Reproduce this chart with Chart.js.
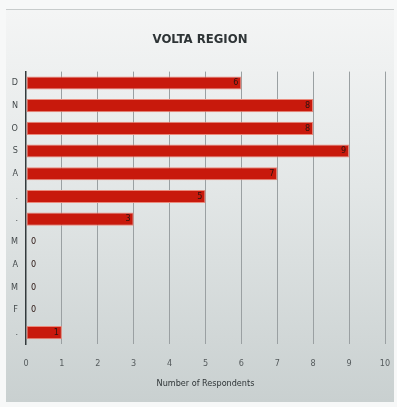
<!DOCTYPE html>
<html>
<head>
<meta charset="utf-8">
<script src="https://cdn.jsdelivr.net/npm/chart.js@4.4.1/dist/chart.umd.min.js"></script>
<style>
  html, body { margin: 0; padding: 0; background: #f7f8f8; }
  #wrap { position: relative; width: 397px; height: 407px; }
  #panel {
    position: absolute; left: 6px; top: 9px; width: 388px; height: 392px;
    background: linear-gradient(to bottom, #f4f5f5 0%, #e3e7e7 45%, #c9d0d0 100%);
    border-top: 1px solid #c8cccc;
  }
  canvas { position: absolute; left: 0; top: 0; }
</style>
</head>
<body>
<div id="wrap">
  <div id="panel"></div>
  <canvas id="chart" width="397" height="407"></canvas>
</div>
<script>
// months top to bottom, as printed on the axis
const months = ['D', 'N', 'O', 'S', 'A', '.', '.', 'M', 'A', 'M', 'F', '.']
const respondents = [6, 8, 8, 9, 7, 5, 3, 0, 0, 0, 0, 1]
const xTicks = [0, 1, 2, 3, 4, 5, 6, 7, 8, 9, 10]

const narrow = "'Liberation Sans Narrow', 'DejaVu Sans Condensed', 'Liberation Sans', sans-serif"

// value labels at the end of each bar
const barLabels = {
    id: 'barLabels',
    afterDatasetsDraw(chart) {
        const ctx = chart.ctx
        const meta = chart.getDatasetMeta(0)
        const x0 = chart.scales.x.getPixelForValue(0)
        ctx.save()
        ctx.font = '9px ' + narrow
        ctx.fillStyle = '#2a1410'
        ctx.textBaseline = 'middle'
        meta.data.forEach((bar, i) => {
            const v = respondents[i]
            if (v === 0) {
                ctx.textAlign = 'left'
                ctx.fillText('0', x0 + 5, bar.y)
            } else {
                ctx.textAlign = 'right'
                ctx.fillText(String(v), bar.x - 3, bar.y)
            }
        })
        ctx.restore()
    }
}

new Chart(document.getElementById('chart'), {
    type: 'bar',
    data: {
        labels: months,
        datasets: [{
            data: respondents,
            backgroundColor: '#c8190c',
            borderColor: '#eb8a7c',
            borderWidth: 1,
            borderSkipped: false,
            barPercentage: 0.8,
            categoryPercentage: 0.72
        }]
    },
    options: {
        indexAxis: 'y',
        responsive: false,
        animation: false,
        layout: { padding: { left: 3, right: 0, top: 16, bottom: 19 } },
        plugins: {
            legend: { display: false },
            tooltip: { enabled: false },
            title: {
                display: true,
                text: 'VOLTA REGION',
                color: '#2e3436',
                font: { family: narrow, size: 13, weight: 'bold' },
                padding: { top: 16, bottom: 24 }
            }
        },
        scales: {
            x: {
                min: 0,
                max: 10,
                afterBuildTicks: axis => { axis.ticks = xTicks.map(v => ({ value: v })) },
                afterFit: axis => { axis.paddingRight = 12 },
                grid: { color: '#9aa0a2', lineWidth: 1, drawTicks: false, drawOnChartArea: true },
                border: { display: false },
                ticks: { color: '#555b5d', font: { family: narrow, size: 9, lineHeight: 1 }, padding: 15 },
                title: {
                    display: true,
                    text: 'Number of Respondents',
                    color: '#2e3436',
                    font: { family: narrow, size: 9, lineHeight: 1 },
                    padding: { top: -4, bottom: 0 }
                }
            },
            y: {
                grid: { display: false, drawTicks: false },
                border: { display: true, color: '#333a3c', width: 1.5 },
                ticks: { color: '#444a4c', font: { family: narrow, size: 9 }, padding: 8 }
            }
        }
    },
    plugins: [barLabels]
})
</script>
</body>
</html>
